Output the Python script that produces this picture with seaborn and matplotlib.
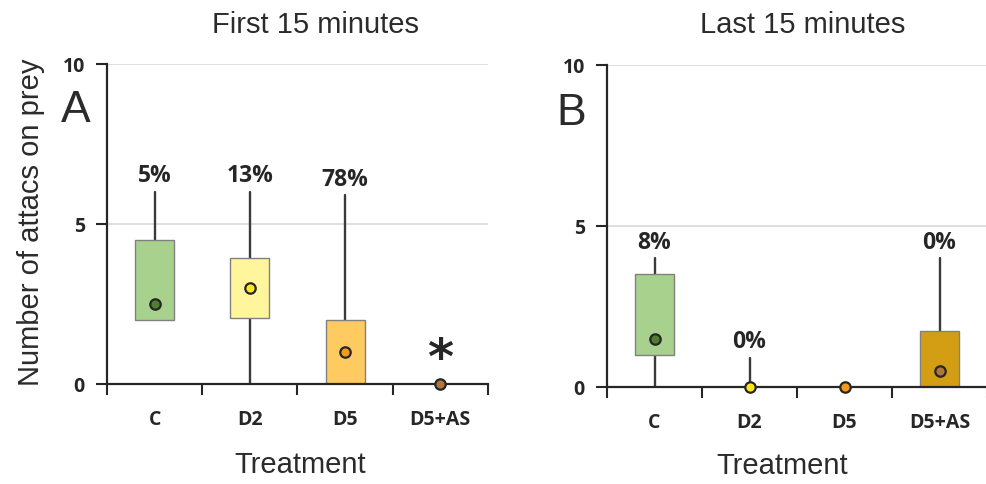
import matplotlib
matplotlib.use("Agg")
import matplotlib.pyplot as plt
import seaborn as sns
import numpy as np

# treatments and box statistics
categories = ["C", "D2", "D5", "D5+AS"]

first_q1 = [2.0, 2.05, 0.0, 0.0]
first_q3 = [4.5, 3.95, 2.0, 0.0]
first_low = [2.0, 0.0, 0.0, 0.0]
first_high = [6.0, 6.0, 5.9, 0.0]
first_mean = [2.5, 3.0, 1.0, 0.0]
first_pct = ["5%", "13%", "78%", None]

last_q1 = [1.0, 0.0, 0.0, 0.0]
last_q3 = [3.5, 0.0, 0.0, 1.75]
last_low = [0.0, 0.0, 0.0, 0.0]
last_high = [4.0, 0.9, 0.0, 4.0]
last_mean = [1.5, 0.0, 0.0, 0.5]
last_pct = ["8%", "0%", None, "0%"]

box_colors = ["#a9d18e", "#fff59d", "#ffca5f", "#d39e14"]
dot_colors = ["#4f7f2f", "#ffe81a", "#f39a1e", "#b1763c"]

sns.set_style("white")
plt.rcParams["font.family"] = ["Liberation Sans", "DejaVu Sans"]

BOLD = dict(family="Open Sans", weight="bold")
INK = "#262626"
TXT = "#2b2b2b"


def draw_panel(ax, q1, q3, low, high, mean, pct, star=False):
    stats = []
    for i, c in enumerate(categories):
        stats.append(dict(label=c, med=q1[i], q1=q1[i], q3=q3[i],
                          whislo=low[i], whishi=high[i]))
    parts = ax.bxp(stats, positions=range(len(categories)), widths=0.41,
                   patch_artist=True, showcaps=False, showfliers=False,
                   boxprops=dict(edgecolor="#808080", linewidth=1),
                   whiskerprops=dict(color="#3a3a3a", linewidth=1.7),
                   medianprops=dict(linewidth=0), manage_ticks=False)
    for patch, col in zip(parts["boxes"], box_colors):
        patch.set_facecolor(col)
        patch.set_zorder(3)
    for w in parts["whiskers"]:
        w.set_zorder(2.8)

    sns.stripplot(x=categories, y=mean, hue=categories, palette=dot_colors,
                  jitter=False, size=7.5, linewidth=1.6, edgecolor=INK,
                  legend=False, ax=ax, zorder=5, clip_on=False)

    for i, txt in enumerate(pct):
        if txt:
            ax.text(i, high[i] + 0.33, txt, ha="center", va="baseline",
                    fontsize=16.5, color=INK, **BOLD)
    if star:
        ax.text(3, 0.35, "*", ha="center", va="baseline", fontsize=36,
                color=INK, family="DejaVu Sans", weight="bold")

    ax.set_ylim(0, 10)
    ax.set_xlim(-0.5, 3.5)
    ax.set_yticks([0, 5, 10])
    ax.set_yticklabels(["0", "5", "10"], fontsize=14, color=INK, **BOLD)
    ax.set_xticks(np.arange(-0.5, 4, 1))
    ax.set_xticklabels([])
    ax.set_xticks(range(len(categories)), minor=True)
    ax.set_xticklabels(categories, minor=True, fontsize=14, color=INK, **BOLD)
    ax.tick_params(axis="x", which="major", direction="out", length=8,
                   width=1.5, color=INK, bottom=True)
    ax.tick_params(axis="x", which="minor", length=0, pad=18)
    ax.tick_params(axis="y", direction="out", length=8, width=1.5,
                   color=INK, left=True, pad=8)
    ax.yaxis.grid(True, color="#d9d9d9", linewidth=1.2)
    ax.set_axisbelow(True)
    for side in ["top", "right"]:
        ax.spines[side].set_visible(False)
    for side in ["left", "bottom"]:
        ax.spines[side].set_color(INK)
        ax.spines[side].set_linewidth(1.6)
        ax.spines[side].set_zorder(4)

    ax.set_xlabel("Treatment", fontsize=21, color=TXT)


fig = plt.figure(figsize=(9.87, 4.85), dpi=100)
ax1 = fig.add_axes([0.1084, 0.2062, 0.386, 0.6598])
ax2 = fig.add_axes([0.615, 0.2, 0.385, 0.664])

draw_panel(ax1, first_q1, first_q3, first_low, first_high, first_mean,
           first_pct, star=True)
draw_panel(ax2, last_q1, last_q3, last_low, last_high, last_mean, last_pct)

ax1.set_ylabel("Number of attacs on prey", fontsize=21, color=TXT)
ax1.yaxis.set_label_coords(-0.163, 0.51)
ax1.xaxis.set_label_coords(0.507, -0.205)
ax2.xaxis.set_label_coords(0.46, -0.198)

fig.text(315 / 987, 0.932, "First 15 minutes", ha="center", va="baseline",
         fontsize=21, color=TXT)
fig.text(803 / 987, 0.932, "Last 15 minutes", ha="center", va="baseline",
         fontsize=21, color=TXT)
fig.text(76 / 987, 0.748, "A", ha="center", va="baseline", fontsize=32,
         color=TXT)
fig.text(571 / 987, 0.742, "B", ha="center", va="baseline", fontsize=32,
         color=TXT)

fig.savefig("out.png", dpi=100)
